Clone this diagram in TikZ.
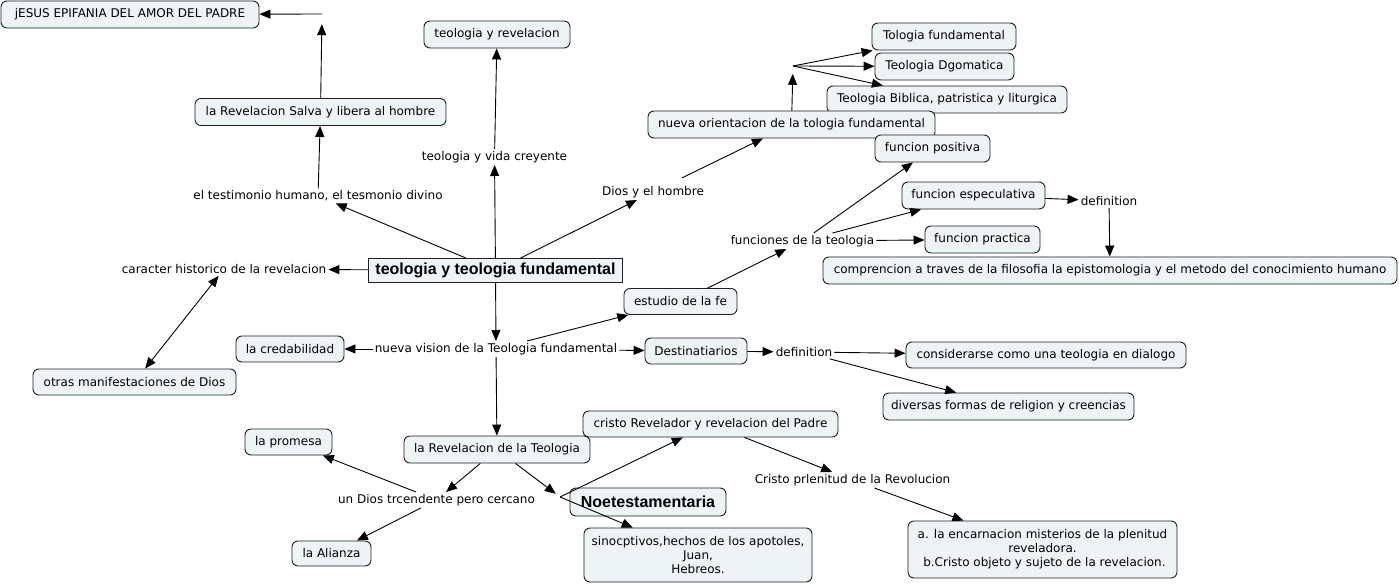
\documentclass[tikz,border=0pt]{standalone}
\usepackage{fontspec}
\setmainfont{DejaVu Sans}
\newfontfamily\lsans{Liberation Sans}
\usetikzlibrary{arrows.meta}
\definecolor{boxfill}{RGB}{238,244,246}
\definecolor{boxline}{RGB}{30,30,30}
\tikzset{
  cbox/.style={draw=boxline, fill=boxfill, rounded corners=6pt, minimum height=27pt,
    inner sep=0pt, line width=0.9pt},
  lbl/.style={inner sep=2pt},
  jn/.style={inner sep=0pt, minimum width=0pt},
  arr/.style={-{Triangle[length=11pt,width=9pt]}, line width=0.9pt},
  darr/.style={{Triangle[length=11pt,width=9pt]}-{Triangle[length=11pt,width=9pt]}, line width=0.9pt},
  ln/.style={line width=0.9pt},
  bigbold/.style={font=\lsans\bfseries\fontsize{16}{18}\selectfont}
}
\begin{document}
\begin{tikzpicture}[x=1pt,y=-1pt,font=\fontsize{12}{14}\selectfont]
\useasboundingbox (0,0) rectangle (1399,585);
\fill[white] (0,0) rectangle (1399,585);

% boxes
\node[cbox, minimum width=258pt] (jesus) at (130,14.5) {jESUS EPIFANIA DEL AMOR DEL PADRE};
\node[cbox, minimum width=251pt] (revsalva) at (320.5,112) {la Revelacion Salva y libera al hombre};
\node[cbox, minimum width=146pt] (teorev) at (497,34.5) {teologia y revelacion};
\node[cbox, minimum width=144pt] (tolfund) at (944,36.5) {Tologia fundamental};
\node[cbox, minimum width=139pt] (dgom) at (944.5,66.5) {Teologia Dgomatica};
\node[cbox, minimum width=240pt] (biblica) at (947,99.5) {Teologia Biblica, patristica y liturgica};
\node[cbox, minimum width=287pt] (nuevaor) at (791.5,124.5) {nueva orientacion de la tologia fundamental};
\node[cbox, minimum width=115pt] (funpos) at (932.5,148.5) {funcion positiva};
\node[cbox, minimum width=143pt] (funesp) at (973.5,195.5) {funcion especulativa};
\node[cbox, minimum width=115pt] (funprac) at (982.5,239.5) {funcion practica};
\node[cbox, minimum width=574pt] (compr) at (1110,270.5) {comprencion a traves de la filosofia la epistomologia y el metodo del conocimiento humano};
\node[cbox, minimum width=113pt, minimum height=26pt] (estudio) at (680.5,301.5) {estudio de la fe};
\node[cbox, minimum width=108pt, minimum height=26pt] (cred) at (290,349) {la credabilidad};
\node[cbox, minimum width=102pt, minimum height=26pt] (destin) at (696,351) {Destinatiarios};
\node[cbox, minimum width=280pt, minimum height=26pt] (consid) at (1046,355) {considerarse como una teologia en dialogo};
\node[cbox, minimum width=251pt] (diversas) at (1008.5,406.5) {diversas formas de religion y creencias};
\node[cbox, minimum width=203pt, minimum height=26pt] (otras) at (134.5,382) {otras manifestaciones de Dios};
\node[cbox, minimum width=255pt, minimum height=26pt] (cristorev) at (710.5,424) {cristo Revelador y revelacion del Padre};
\node[cbox, minimum width=186pt] (revteo) at (497,449.5) {la Revelacion de la Teologia};
\node[cbox, minimum width=87pt, minimum height=26pt] (promesa) at (288.5,442) {la promesa};
\node[cbox, minimum width=79pt, minimum height=25pt] (alianza) at (331.5,553.5) {la Alianza};
\node[cbox, minimum width=156pt, minimum height=28pt, bigbold] (noe) at (648,502) {Noetestamentaria};
\node[cbox, minimum width=228pt, minimum height=54pt, align=center] (sinoc) at (698,555) {sinocptivos,hechos de los apotoles,\\Juan,\\Hebreos.};
\node[cbox, minimum width=269pt, minimum height=57pt, align=center] (encar) at (1042.5,549.5) {a. la encarnacion misterios de la plenitud\\reveladora.\\\ b.Cristo objeto y sujeto de la revelacion.};

% main node
\node[draw=boxline, fill=boxfill, line width=0.9pt, minimum width=254pt, minimum height=24pt, inner sep=0pt, bigbold] (main) at (495.5,270.5) {teologia y teologia fundamental};

% labels
\node[lbl] (testim) at (318,196) {el testimonio humano, el tesmonio divino};
\node[lbl] (vida) at (494.5,157) {teologia y vida creyente};
\node[lbl] (dios) at (653,192) {Dios y el hombre};
\node[lbl] (caract) at (224,269) {caracter historico de la revelacion};
\node[lbl] (funciones) at (802.5,241) {funciones de la teologia};
\node[lbl] (nuevavis) at (496,349) {nueva vision de la Teologia fundamental};
\node[lbl] (defa) at (1109,201) {definition};
\node[lbl] (defb) at (804,352) {definition};
\node[lbl] (undios) at (436.5,500) {un Dios trcendente pero cercano};
\node[lbl] (cristopl) at (852.5,480) {Cristo prlenitud de la Revolucion};

% junctions
\node[jn, minimum height=20pt] (ja) at (322,14) {};
\node[jn, minimum height=36pt] (jb) at (793,66) {};
\node[jn, minimum height=8pt, minimum width=8pt] (jc) at (560,497) {};

% connectors
\draw[arr] (main) -- (testim);
\draw[arr] (testim) -- (revsalva);
\draw[arr] (revsalva) -- (ja);
\draw[arr] (ja.center) -- (jesus);
\draw[arr] (main) -- (vida);
\draw[arr] (vida) -- (teorev);
\draw[arr] (main) -- (dios);
\draw[arr, shorten <=14pt] (dios) -- (nuevaor);
\draw[arr] (nuevaor) -- (jb);
\draw[arr] (jb.center) -- (tolfund);
\draw[arr] (jb.center) -- (dgom);
\draw[arr] (jb.center) -- (biblica);
\draw[arr] (main) -- (caract);
\draw[darr] (caract) -- (otras);
\draw[arr] (main) -- (nuevavis);
\draw[arr] (nuevavis) -- (cred);
\draw[arr] (nuevavis) -- (estudio);
\draw[arr] (nuevavis) -- (destin);
\draw[arr] (estudio) -- (funciones);
\draw[arr] (funciones) -- (funpos);
\draw[arr] (funciones) -- (funesp);
\draw[arr] (funciones) -- (funprac);
\draw[arr] (funesp) -- (defa);
\draw[arr] (defa) -- (compr);
\draw[arr] (destin) -- (defb);
\draw[arr] (defb) -- (consid);
\draw[arr] (defb) -- (diversas);
\draw[arr] (nuevavis) -- (revteo);
\draw[arr] (revteo) -- (undios);
\draw[arr] (revteo) -- (jc);
\draw[arr] (undios) -- (promesa);
\draw[arr] (undios) -- (alianza);
\draw[arr] (jc.center) -- (cristorev);
\draw[arr] (jc.center) -- (sinoc);
\draw[arr] (cristorev) -- (cristopl);
\draw[arr] (cristopl) -- (encar);
\end{tikzpicture}
\end{document}
